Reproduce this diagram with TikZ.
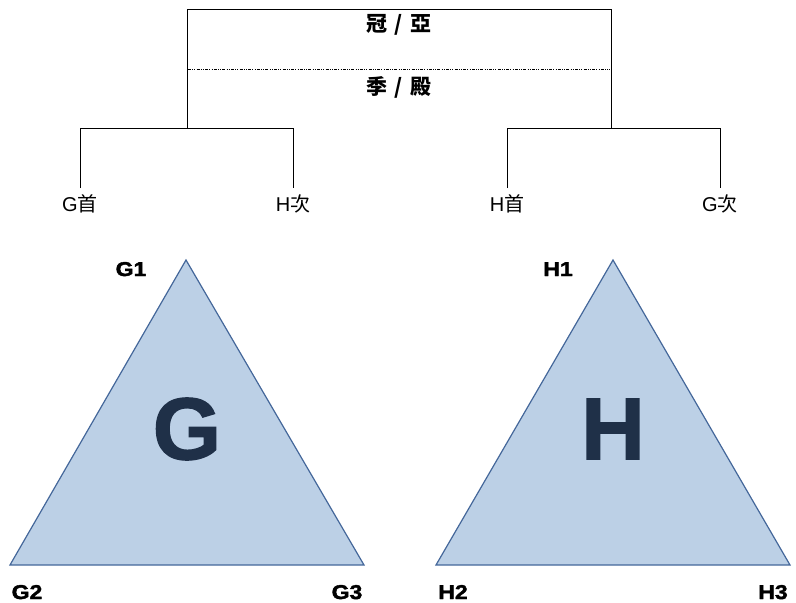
\documentclass[tikz,border=0pt]{standalone}
\usepackage{fontspec}
\setmainfont{Liberation Sans}
\newfontfamily\cjk{Noto Sans CJK TC}
\newfontfamily\heavy{Liberation Sans Bold}[FakeBold=2, FakeStretch=1.15]
\newfontfamily\bigfont{Liberation Sans Bold}[FakeBold=1.5]
\begin{document}
\begin{tikzpicture}[x=1pt,y=-1pt,
  line/.style={draw=black,line width=1pt},
  lbl/.style={font=\fontsize{20}{22}\selectfont, inner sep=0pt, anchor=base},
  toplbl/.style={font=\cjk\bfseries\fontsize{21}{23}\selectfont, inner sep=0pt},
  vlbl/.style={font=\heavy\fontsize{20}{22}\selectfont, inner sep=0pt, anchor=base},
  tri/.style={fill=triFill, draw=triEdge, line width=1.2pt, line join=miter},
  big/.style={font=\bigfont\fontsize{88}{88}\selectfont, text=bigText, inner sep=0pt}]
\definecolor{triFill}{HTML}{BCD0E6}
\definecolor{triEdge}{HTML}{44679A}
\definecolor{bigText}{HTML}{1F3048}
\useasboundingbox (0,0) rectangle (796,603);
% coordinates
\coordinate (tl) at (187,9);
\coordinate (tr) at (611,9);
\coordinate (bl) at (187,128);
\coordinate (br) at (611,128);
\coordinate (dl) at (188,69);
\coordinate (dr) at (610,69);
\coordinate (la) at (80,128);
\coordinate (lb) at (293,128);
\coordinate (ra) at (507,128);
\coordinate (rb) at (720,128);
% labels
\node[toplbl] (t1) at (399,25) {冠\,\,/\,\,亞};
\node[toplbl] (t2) at (399,87) {季\,\,/\,\,殿};
\node[lbl] (g1st) at (80,211) {G\cjk 首};
\node[lbl] (h2nd) at (293,211) {H\cjk 次};
\node[lbl] (h1st) at (507,211) {H\cjk 首};
\node[lbl] (g2nd) at (720,211) {G\cjk 次};
% bracket lines
\draw[line] (bl) -- (tl) -- (tr) -- (br);
\draw[dash pattern=on 3pt off 1.2pt on 1pt off 1.2pt on 1pt off 1.2pt, line width=0.8pt] (dl) -- (dr);
\draw[line] (80,188) -- (la) -- (lb) -- (293,188);
\draw[line] (507,188) -- (ra) -- (rb) -- (720,188);
% triangles
\coordinate (G1) at (186,260);
\coordinate (G2) at (10,565);
\coordinate (G3) at (364,565);
\coordinate (H1) at (613,260);
\coordinate (H2) at (436,565);
\coordinate (H3) at (790,565);
\draw[tri] (G1) -- (G2) -- (G3) -- cycle;
\draw[tri] (H1) -- (H2) -- (H3) -- cycle;
\node[big] (bigG) at (187,429) {G};
\node[big] (bigH) at (613,429) {H};
\node[vlbl] (lG1) at (131,276) {G1};
\node[vlbl] (lG2) at (27,599) {G2};
\node[vlbl] (lG3) at (347,599) {G3};
\node[vlbl] (lH1) at (558,276) {H1};
\node[vlbl] (lH2) at (453,599) {H2};
\node[vlbl] (lH3) at (773,599) {H3};
\end{tikzpicture}
\end{document}
